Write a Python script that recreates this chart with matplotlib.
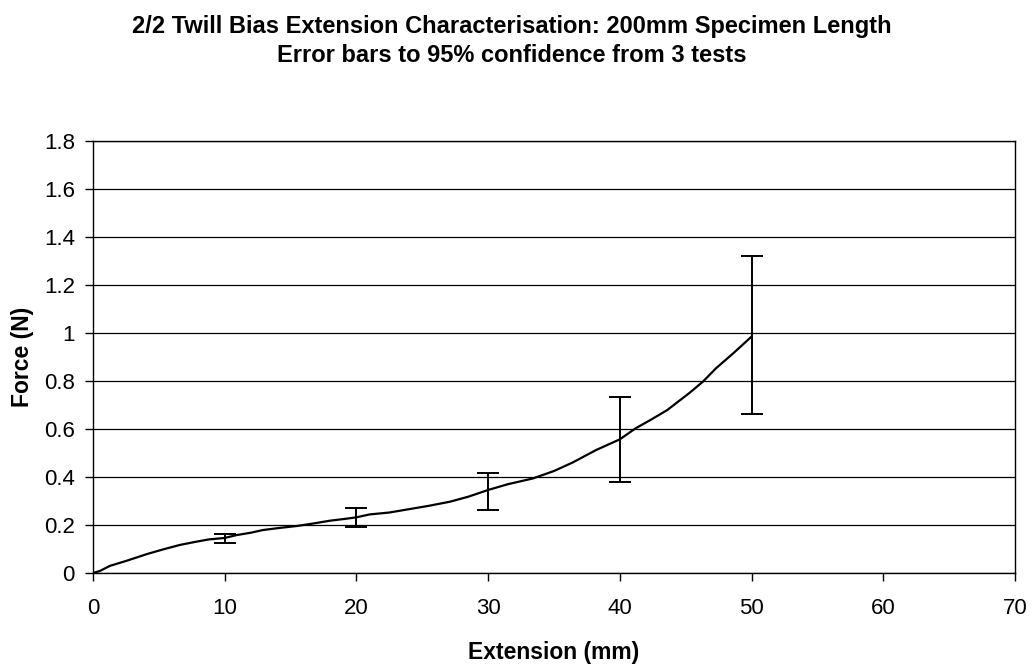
import matplotlib

matplotlib.use("Agg")
import matplotlib.pyplot as plt

# mean force curve (mm, N)
extension_mm = [0, 0.5, 1.3, 2.5, 4.1, 5.3, 6.6, 7.8, 8.8, 9.6, 10.0, 10.9,
                12.0, 12.9, 14.2, 15.5, 16.8, 18.0, 19.2, 20.0, 21.0, 22.5,
                24.0, 25.5, 27.1, 28.5, 30.0, 31.5, 33.4, 35.0, 36.4, 38.2,
                40.0, 41.2, 42.4, 43.6, 45.3, 46.3, 47.3, 48.6, 50.0]
force_n = [0, 0.008, 0.03, 0.05, 0.079, 0.098, 0.117, 0.13, 0.14, 0.144, 0.146,
           0.158, 0.168, 0.179, 0.188, 0.196, 0.207, 0.218, 0.226, 0.232, 0.244,
           0.252, 0.266, 0.28, 0.297, 0.318, 0.346, 0.37, 0.394, 0.425, 0.46,
           0.5125, 0.557, 0.603, 0.64, 0.679, 0.751, 0.797, 0.853, 0.915, 0.985]

# 95% confidence bars from 3 tests
bar_x = [10, 20, 30, 40, 50]
bar_low = [0.126, 0.19, 0.2625, 0.38, 0.6625]
bar_high = [0.161, 0.269, 0.415, 0.732, 1.321]
bar_mid = [0.146, 0.232, 0.346, 0.557, 0.985]

x_ticks = [0, 10, 20, 30, 40, 50, 60, 70]
y_ticks = [0, 0.2, 0.4, 0.6, 0.8, 1, 1.2, 1.4, 1.6, 1.8]
y_tick_labels = ["0", "0.2", "0.4", "0.6", "0.8", "1", "1.2", "1.4", "1.6", "1.8"]

plt.rcParams["font.family"] = ["Liberation Sans", "DejaVu Sans"]

fig = plt.figure(figsize=(10.34, 6.66), dpi=100)
ax = fig.add_axes([93 / 1034, 1 - 573 / 666, 922 / 1034, 432 / 666])

ax.plot(extension_mm, force_n, color="black", linewidth=1.6, zorder=3)

err_lo = [m - lo for m, lo in zip(bar_mid, bar_low)]
err_hi = [hi - m for m, hi in zip(bar_mid, bar_high)]
ax.errorbar(bar_x, bar_mid, yerr=[err_lo, err_hi], fmt="none", ecolor="black",
            elinewidth=1.4, capsize=8, capthick=1.4, zorder=4)

ax.set_xlim(0, 70)
ax.set_ylim(0, 1.8)
ax.set_xticks(x_ticks)
ax.set_yticks(y_ticks)
ax.set_yticklabels(y_tick_labels)
ax.yaxis.grid(True, color="black", linewidth=0.9)
ax.set_axisbelow(True)

for spine in ax.spines.values():
    spine.set_color("black")
    spine.set_linewidth(1.0)

ax.tick_params(axis="both", direction="out", length=6, width=1.0,
               labelsize=16, color="black", pad=7)
ax.tick_params(axis="x", pad=12)

ax.set_xlabel("Extension (mm)", fontsize=16.5, fontweight="bold", labelpad=16)
ax.set_ylabel("Force (N)", fontsize=16.5, fontweight="bold", labelpad=7)

fig.text(0.495, 1 - 26 / 666, "2/2 Twill Bias Extension Characterisation: 200mm Specimen Length",
         ha="center", va="center", fontsize=17, fontweight="bold")
fig.text(0.495, 1 - 56 / 666, "Error bars to 95% confidence from 3 tests",
         ha="center", va="center", fontsize=17, fontweight="bold")

fig.savefig("out.png", dpi=100)
